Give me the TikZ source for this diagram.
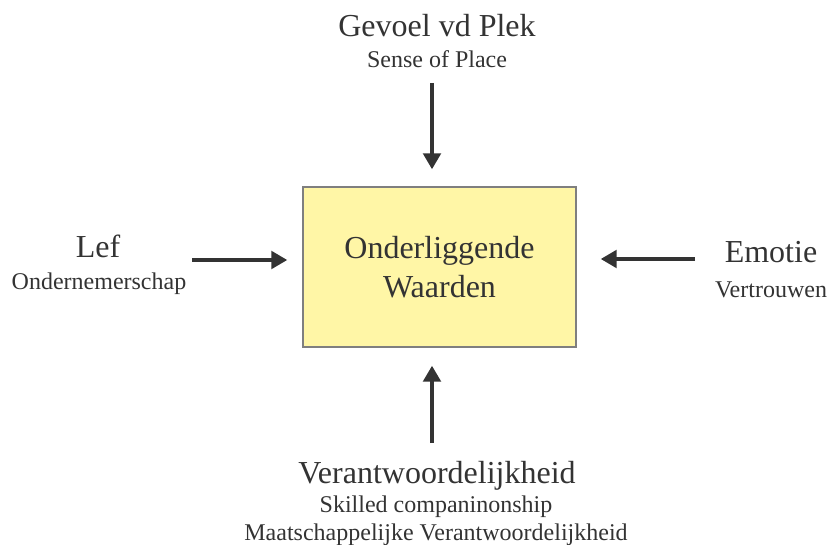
\documentclass[tikz,border=0pt]{standalone}
\usepackage{fontspec}
\setmainfont{Liberation Serif}
\usetikzlibrary{arrows.meta}
\definecolor{ink}{HTML}{333333}
\definecolor{boxfill}{HTML}{FFF6A6}
\definecolor{boxline}{HTML}{7F7F7F}
\begin{document}
\begin{tikzpicture}[x=0.75pt,y=-0.75pt,
  big/.style={anchor=base,text=ink,font=\fontsize{24}{29}\selectfont,inner sep=0pt},
  small/.style={anchor=base,text=ink,font=\fontsize{18}{22}\selectfont,inner sep=0pt},
  arr/.style={-{Triangle[length=12pt,width=13pt]},line width=3pt,draw=ink}]
 \useasboundingbox (0,0) rectangle (832,545);
 \node[draw=boxline,line width=1pt,fill=boxfill,minimum width=204.75pt,minimum height=120pt,align=center,text=ink,font=\fontsize{24}{29.25}\selectfont] (ow) at (439.5,267) {Onderliggende\\Waarden};
    \node[big] (g) at (437,37) {Gevoel vd Plek};
    \node[small] (gs) at (437,68) {Sense of Place};
    \node[big] (l) at (98,258) {Lef};
    \node[small] (ls) at (99,290) {Ondernemerschap};
    \node[big] (em) at (771,263) {Emotie};
    \node[small] (es) at (771,298) {Vertrouwen};
    \node[big] (v) at (437,483) {Verantwoordelijkheid};
    \node[small] (vs) at (436,512) {Skilled companinonship};
    \node[small] (vm) at (436,540) {Maatschappelijke Verantwoordelijkheid};
    \coordinate (ta) at (432,83);
    \coordinate (la) at (192,260);
    \coordinate (ra) at (695,259);
    \coordinate (ba) at (432,443);
    \draw [arr,shorten >=12.75pt] (ta) -- (ta |- ow.north);
    \draw [arr,shorten >=11.25pt] (la) -- (la -| ow.west);
    \draw [arr,shorten >=18pt] (ra) -- (ra -| ow.east);
    \draw [arr,shorten >=13.5pt] (ba) -- (ba |- ow.south);
\end{tikzpicture}
\end{document}
